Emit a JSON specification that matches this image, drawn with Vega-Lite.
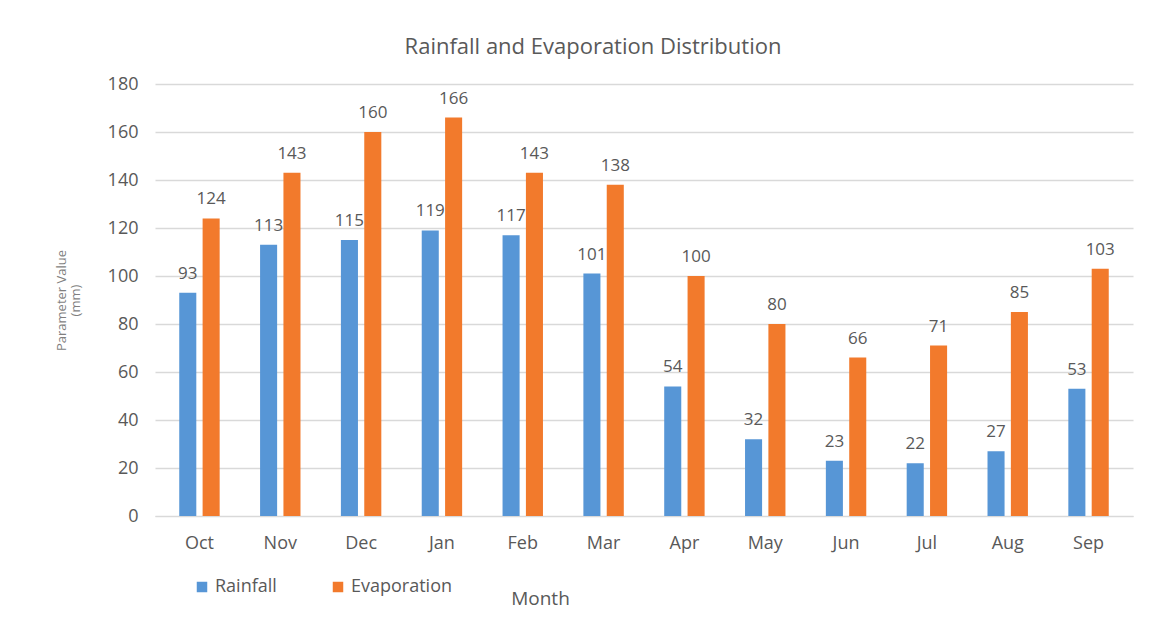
{
  "$schema": "https://vega.github.io/schema/vega-lite/v6.json",
  "width": 978,
  "height": 432,
  "autosize": {"type": "none"},
  "padding": {"left": 155, "top": 84, "right": 30, "bottom": 119},
  "background": "white",
  "title": {
    "text": "Rainfall and Evaporation Distribution",
    "fontSize": 22,
    "font": "Open Sans",
    "fontWeight": "normal",
    "color": "#595959",
    "anchor": "middle",
    "dx": -51,
    "offset": 16
  },
  "config": {
    "view": {"stroke": null},
    "font": "Open Sans"
  },
  "data": {
    "values": [
      {"month": "Oct", "series": "Rainfall", "value": 93},
      {"month": "Oct", "series": "Evaporation", "value": 124},
      {"month": "Nov", "series": "Rainfall", "value": 113},
      {"month": "Nov", "series": "Evaporation", "value": 143},
      {"month": "Dec", "series": "Rainfall", "value": 115},
      {"month": "Dec", "series": "Evaporation", "value": 160},
      {"month": "Jan", "series": "Rainfall", "value": 119},
      {"month": "Jan", "series": "Evaporation", "value": 166},
      {"month": "Feb", "series": "Rainfall", "value": 117},
      {"month": "Feb", "series": "Evaporation", "value": 143},
      {"month": "Mar", "series": "Rainfall", "value": 101},
      {"month": "Mar", "series": "Evaporation", "value": 138},
      {"month": "Apr", "series": "Rainfall", "value": 54},
      {"month": "Apr", "series": "Evaporation", "value": 100},
      {"month": "May", "series": "Rainfall", "value": 32},
      {"month": "May", "series": "Evaporation", "value": 80},
      {"month": "Jun", "series": "Rainfall", "value": 23},
      {"month": "Jun", "series": "Evaporation", "value": 66},
      {"month": "Jul", "series": "Rainfall", "value": 22},
      {"month": "Jul", "series": "Evaporation", "value": 71},
      {"month": "Aug", "series": "Rainfall", "value": 27},
      {"month": "Aug", "series": "Evaporation", "value": 85},
      {"month": "Sep", "series": "Rainfall", "value": 53},
      {"month": "Sep", "series": "Evaporation", "value": 103}
    ]
  },
  "encoding": {
    "x": {
      "field": "month",
      "type": "nominal",
      "sort": ["Oct", "Nov", "Dec", "Jan", "Feb", "Mar", "Apr", "May", "Jun", "Jul", "Aug", "Sep"],
      "scale": {"paddingInner": 0.5, "paddingOuter": 0.3},
      "axis": {
        "title": "Month",
        "titleFontSize": 19,
        "titleFontWeight": "normal",
        "titleColor": "#595959",
        "titleX": 385,
        "titleY": 92,
        "titleBaseline": "bottom",
        "labelAngle": 0,
        "labelFontSize": 18,
        "labelColor": "#595959",
        "labelPadding": 18,
        "ticks": false,
        "domainColor": "#d9d9d9",
        "grid": false
      }
    },
    "xOffset": {
      "field": "series",
      "type": "nominal",
      "sort": ["Rainfall", "Evaporation"],
      "scale": {"paddingInner": 0.27, "paddingOuter": 0}
    },
    "y": {
      "field": "value",
      "type": "quantitative",
      "scale": {"domain": [0, 180], "nice": false},
      "axis": {
        "values": [0, 20, 40, 60, 80, 100, 120, 140, 160, 180],
        "title": ["Parameter Value", "(mm)"],
        "titleFontSize": 13,
        "titleLineHeight": 14,
        "titleFontWeight": "normal",
        "titleColor": "#7f7f7f",
        "titlePadding": 25,
        "labelFontSize": 18,
        "labelColor": "#595959",
        "labelPadding": 17,
        "ticks": false,
        "domain": false,
        "gridColor": "#d9d9d9",
        "gridWidth": 1.5
      }
    }
  },
  "layer": [
    {
      "mark": {"type": "bar"},
      "encoding": {
        "color": {
          "field": "series",
          "type": "nominal",
          "sort": ["Rainfall", "Evaporation"],
          "scale": {"domain": ["Rainfall", "Evaporation"], "range": ["#5796d6", "#f27a2c"]},
          "legend": {
            "title": null,
            "orient": "none",
            "legendX": 38,
            "legendY": 494,
            "direction": "horizontal",
            "symbolType": "square",
            "symbolSize": 110,
            "symbolStrokeWidth": 0,
            "labelFontSize": 18,
            "labelColor": "#595959",
            "labelOffset": 4,
            "columnPadding": 52
          }
        }
      }
    },
    {
      "mark": {"type": "text", "baseline": "bottom", "dy": -10, "fontSize": 17, "color": "#595959"},
      "encoding": {
        "text": {"field": "value", "type": "quantitative"}
      }
    }
  ]
}
